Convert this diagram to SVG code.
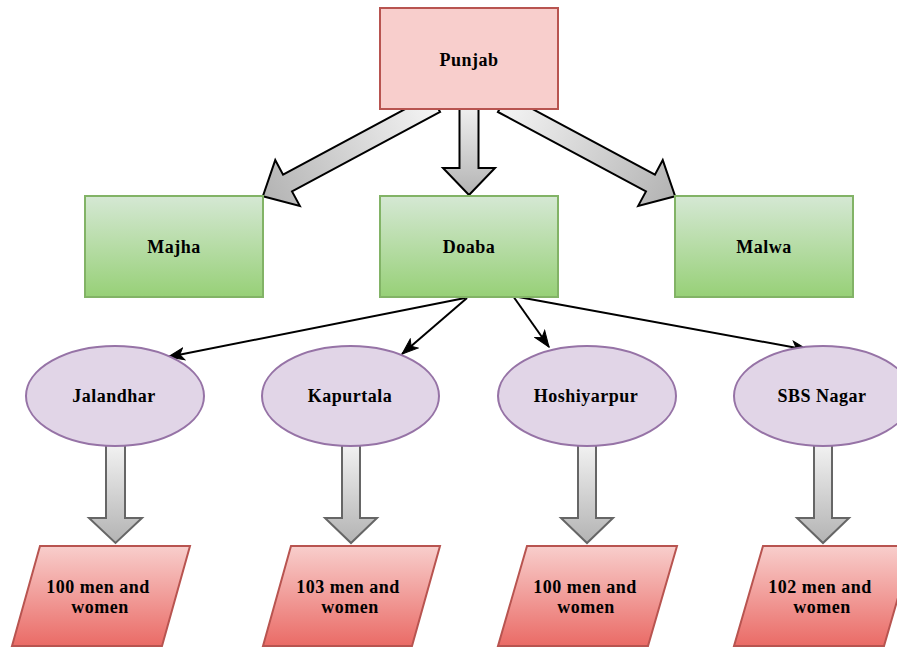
<svg xmlns="http://www.w3.org/2000/svg" width="897" height="648" viewBox="0 0 897 648">
<defs>
<linearGradient id="gGreen" x1="0" y1="0" x2="0" y2="1"><stop offset="0" stop-color="#d5e8d4"/><stop offset="1" stop-color="#97d077"/></linearGradient>
<linearGradient id="gRed" x1="0" y1="0" x2="0" y2="1"><stop offset="0" stop-color="#f8cecc"/><stop offset="1" stop-color="#ea6b66"/></linearGradient>
<linearGradient id="gGrayV" x1="0" y1="0" x2="0" y2="1"><stop offset="0" stop-color="#f5f5f5"/><stop offset="1" stop-color="#b3b3b3"/></linearGradient>
<linearGradient id="gGrayH" x1="0" y1="0" x2="1" y2="0"><stop offset="0" stop-color="#f5f5f5"/><stop offset="1" stop-color="#b3b3b3"/></linearGradient>
<marker id="arr" viewBox="0 0 18 14" refX="17" refY="7" markerWidth="18" markerHeight="14" markerUnits="userSpaceOnUse" orient="auto">
<path d="M1,1 L17,7 L1,13 L5,7 Z" fill="#000" stroke="#000" stroke-width="1"/>
</marker>
</defs>
<style>
.t{font-family:"Liberation Serif","Times New Roman",serif;font-weight:bold;font-size:18px;letter-spacing:0.5px;fill:#000;text-anchor:middle}
.big{stroke:#000;stroke-width:2;fill:url(#gGrayH)}
.dn{stroke:#666;stroke-width:2;fill:url(#gGrayV)}
.thin{stroke:#000;stroke-width:2;fill:none;marker-end:url(#arr)}
.green{fill:url(#gGreen);stroke:#82b366;stroke-width:2}
.ell{fill:#e1d5e7;stroke:#9673a6;stroke-width:2}
.para{fill:url(#gRed);stroke:#b85450;stroke-width:2}
</style>
<rect width="897" height="648" fill="#fff"/>
<g id="connectors">
<polygon class="big" transform="translate(435.6,103.6) rotate(151.8)" points="0,-9.5 168,-9.5 168,-26 196,0 168,26 168,9.5 0,9.5"/>
<polygon class="big" transform="translate(502.4,103.6) rotate(28.2)" points="0,-9.5 168,-9.5 168,-26 196,0 168,26 168,9.5 0,9.5"/>
<polygon class="big" transform="translate(469,100) rotate(90)" points="0,-9.5 68,-9.5 68,-26 95,0 68,26 68,9.5 0,9.5"/>
<path class="thin" d="M465,298 L168,357"/>
<path class="thin" d="M467,298 L402,354"/>
<path class="thin" d="M513,296 L549,347"/>
<path class="thin" d="M513,296 L808,350"/>
<polygon class="dn" points="106,440 125,440 125,518 142,518 115.5,543 89,518 106,518"/>
<polygon class="dn" points="342,440 360,440 360,518 377,518 351,543 325,518 342,518"/>
<polygon class="dn" points="578,440 596,440 596,518 613,518 587,543 561,518 578,518"/>
<polygon class="dn" points="814,440 832,440 832,518 849,518 823,543 797,518 814,518"/>
</g>
<g id="punjab"><rect x="380" y="8" width="178" height="101" fill="#f8cecc" stroke="#b85450" stroke-width="2"/><text class="t" x="469" y="66">Punjab</text></g>
<g id="majha"><rect class="green" x="85" y="196" width="178" height="101"/><text class="t" x="174" y="253">Majha</text></g>
<g id="doaba"><rect class="green" x="380" y="196" width="178" height="101"/><text class="t" x="469" y="253">Doaba</text></g>
<g id="malwa"><rect class="green" x="675" y="196" width="178" height="101"/><text class="t" x="764" y="253">Malwa</text></g>
<g id="jalandhar"><ellipse class="ell" cx="115" cy="396" rx="89" ry="50"/><text class="t" x="114" y="402">Jalandhar</text></g>
<g id="kapurtala"><ellipse class="ell" cx="350.5" cy="396" rx="88.5" ry="50"/><text class="t" x="350" y="402">Kapurtala</text></g>
<g id="hoshiyarpur"><ellipse class="ell" cx="587" cy="396" rx="89" ry="50"/><text class="t" x="586" y="402">Hoshiyarpur</text></g>
<g id="sbsnagar"><ellipse class="ell" cx="823" cy="396" rx="89" ry="50"/><text class="t" x="822" y="402">SBS Nagar</text></g>
<g id="p1"><polygon class="para" points="40,546 190,546 162,646 12,646"/><text class="t" x="98" y="593">100 men and</text><text class="t" x="100" y="613">women</text></g>
<g id="p2"><polygon class="para" points="291,546 440,546 412,646 263,646"/><text class="t" x="348" y="593">103 men and</text><text class="t" x="350" y="613">women</text></g>
<g id="p3"><polygon class="para" points="527,546 677,546 648,646 498,646"/><text class="t" x="585" y="593">100 men and</text><text class="t" x="586" y="613">women</text></g>
<g id="p4"><polygon class="para" points="763,546 913,546 884,646 734,646"/><text class="t" x="820" y="593">102 men and</text><text class="t" x="822" y="613">women</text></g>
</svg>
